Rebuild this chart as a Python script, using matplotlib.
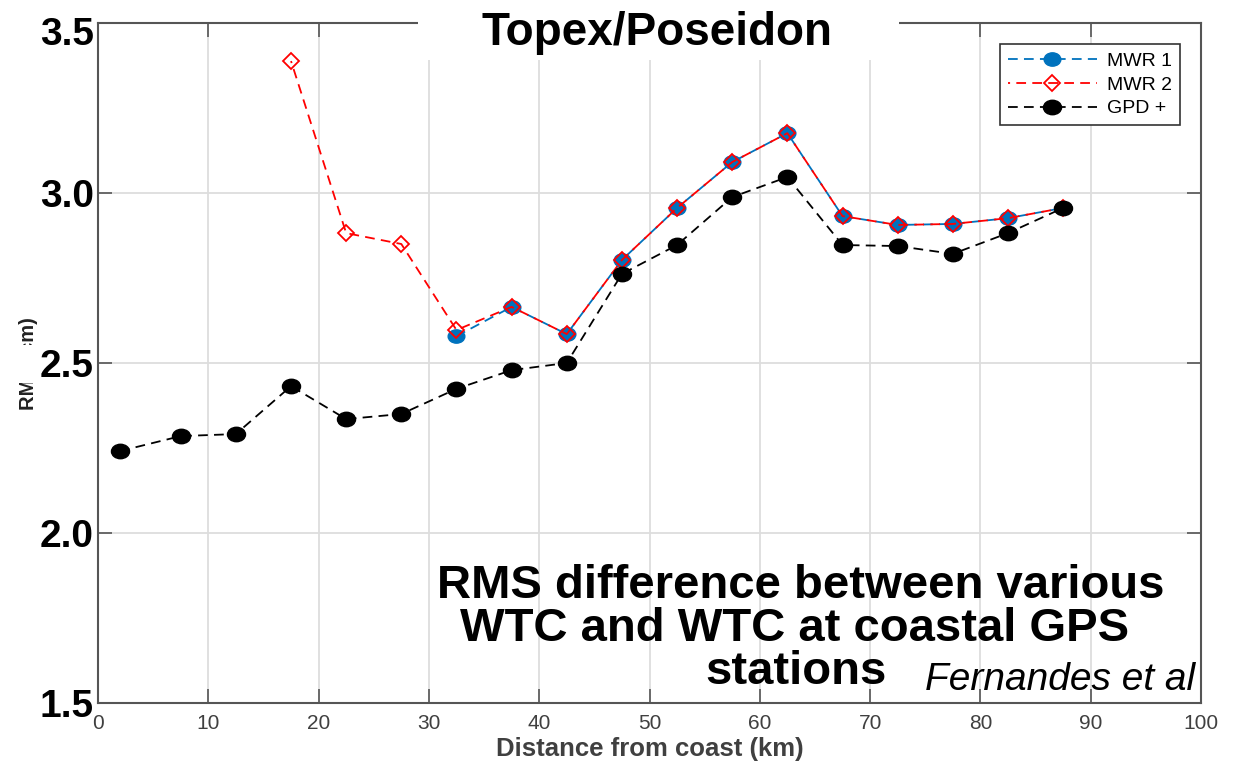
import numpy as np
import matplotlib
matplotlib.use('Agg')
import matplotlib.pyplot as plt
from matplotlib.patches import Rectangle
from matplotlib.path import Path
from matplotlib.transforms import Affine2D, ScaledTranslation

plt.rcParams['font.family'] = ['Liberation Sans', 'DejaVu Sans']
plt.rcParams['lines.scale_dashes'] = False

# distance from coast (km), bins
dist = [2.0, 7.5, 12.5, 17.5, 22.5, 27.5, 32.5, 37.5, 42.5, 47.5,
        52.5, 57.5, 62.5, 67.5, 72.5, 77.5, 82.5, 87.5]
gpd = [2.241, 2.285, 2.291, 2.432, 2.335, 2.350, 2.424, 2.479, 2.500, 2.762,
       2.847, 2.988, 3.047, 2.847, 2.844, 2.821, 2.882, 2.956]

mwr2_dist = [17.5, 22.5, 27.5, 32.5, 37.5, 42.5, 47.5, 52.5, 57.5, 62.5,
             67.5, 72.5, 77.5, 82.5, 87.5]
mwr2 = [3.388, 2.882, 2.850, 2.597, 2.665, 2.585, 2.803, 2.956, 3.091, 3.176,
        2.932, 2.906, 2.909, 2.926, 2.956]

mwr1_dist = [32.5, 37.5, 42.5, 47.5, 52.5, 57.5, 62.5, 67.5, 72.5, 77.5,
             82.5, 87.5]
mwr1 = [2.579, 2.665, 2.585, 2.803, 2.956, 3.091, 3.176, 2.932, 2.906, 2.909,
        2.926, 2.956]

xticks = [0, 10, 20, 30, 40, 50, 60, 70, 80, 90, 100]
yticks = [1.5, 2.0, 2.5, 3.0, 3.5]
ytick_labels = ['1.5', '2.0', '2.5', '3.0', '3.5']

W, H = 1236, 763
fig = plt.figure(figsize=(W / 100, H / 100), dpi=100)
ax = fig.add_axes([98 / W, 60 / H, (1201 - 98) / W, (703 - 23) / H])

# slightly squashed circle, like the stretched screenshot
oval = Path.unit_circle().transformed(Affine2D().scale(1.0, 0.8))
dash = (7, 4.5)

ax.plot(mwr1_dist, mwr1, color='#0072BD', ls=(0, dash), lw=1.3,
        marker=oval, ms=12, mfc='#0072BD', mec='#0072BD', label='MWR 1', zorder=3)
ax.plot(mwr2_dist, mwr2, color='#FF0000', ls=(5.5, dash), lw=1.3,
        marker='D', ms=8, mfc='none', mec='#FF0000', mew=1.3, label='MWR 2', zorder=4)
ax.plot(dist, gpd, color='black', ls=(0, dash), lw=1.3,
        marker=oval, ms=13, mfc='black', mec='black', label='GPD +', zorder=5)

ax.set_xlim(0, 100)
ax.set_ylim(1.5, 3.5)
ax.set_xticks(xticks)
ax.set_yticks(yticks, ytick_labels)
ax.grid(True, color='#dddddd', lw=1.3)

for s in ax.spines.values():
    s.set_color('#555555')
    s.set_linewidth(1.5)

ax.tick_params(direction='in', length=10, width=1.2, color='#555555',
               top=True, right=True)
ax.tick_params(axis='x', labelsize=15, labelcolor='#404040', pad=8)
ax.tick_params(axis='y', labelsize=28, labelcolor='black', pad=3)
for lbl in ax.get_yticklabels():
    lbl.set_fontweight('bold')
# top label sits a bit lower than its tick in the original
top_lbl = ax.get_yticklabels()[-1]
top_lbl.set_transform(top_lbl.get_transform() + ScaledTranslation(0, -0.08, fig.dpi_scale_trans))

ax.set_xlabel('Distance from coast (km)', fontsize=18.5, fontweight='bold',
              color='#404040', labelpad=3)

# y label partly hidden behind the big tick labels
fig.text(28 / W, 1 - 364 / H, 'RMS (cm)', rotation=90, ha='center', va='center',
         fontsize=14.5, fontweight='bold', color='#222222', zorder=-1)
ax.add_patch(Rectangle((10 / W, 1 - 383 / H), 86 / W, 38 / H, transform=fig.transFigure,
                       fc='white', ec='none', clip_on=False, zorder=1))

leg = ax.legend(loc='upper right', fontsize=14, handlelength=4.6, numpoints=1,
                fancybox=False, framealpha=1, edgecolor='#333333',
                borderaxespad=1.1, labelspacing=0.32, handletextpad=0.5,
                borderpad=0.4)
leg.get_frame().set_linewidth(1.2)

# white box behind the title
ax.add_patch(Rectangle((418 / W, 1 - 60 / H), (899 - 418) / W, 60 / H,
                       transform=fig.transFigure, fc='white', ec='none',
                       clip_on=False, zorder=6))
fig.text(657 / W, 1 - 45 / H, 'Topex/Poseidon', ha='center', va='baseline',
         fontsize=33, fontweight='bold', zorder=10)

lines = [('RMS difference between various', 801, 598),
         ('WTC and WTC at coastal GPS', 795, 641),
         ('stations', 796, 684)]
for txt, px, py in lines:
    fig.text(px / W, 1 - py / H, txt, ha='center', va='baseline',
             fontsize=34, fontweight='bold', zorder=10)
fig.text(1195 / W, 1 - 690 / H, 'Fernandes et al', ha='right', va='baseline',
         fontsize=28, style='italic', zorder=10)

fig.savefig('out.png', dpi=100)
